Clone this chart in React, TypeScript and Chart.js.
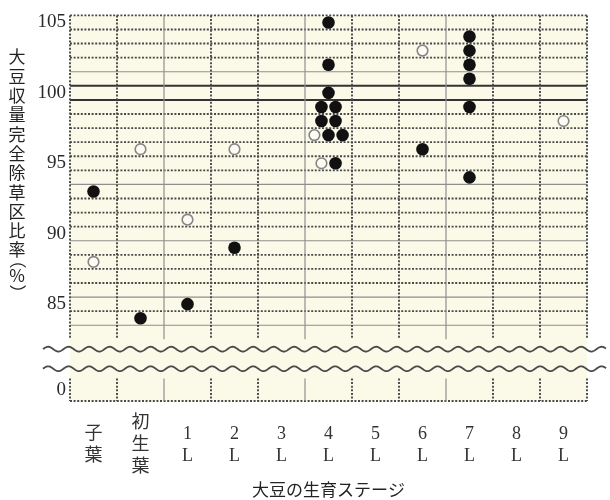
import React, { useEffect, useRef } from 'react';
import { Chart, registerables } from 'chart.js';

Chart.register(...registerables);

// ---- data ----
const stages = ['子葉', '初生葉', '1L', '2L', '3L', '4L', '5L', '6L', '7L', '8L', '9L'];
const yTicksMain = [85, 90, 95, 100, 105];
const yTicksLow = [0];
const yTitle = '大豆収量完全除草区比率（%）';
const xTitle = '大豆の生育ステージ';

// open circles
const openStage = ['子葉', '初生葉', '1L', '2L', '4L', '4L', '6L', '9L'];
const openValue = [88, 96, 91, 96, 97, 95, 103, 98];

// filled circles
const filledStage = ['子葉', '初生葉', '1L', '2L', '4L', '4L', '4L', '4L', '4L', '4L', '4L', '4L', '4L', '4L', '6L', '7L', '7L', '7L', '7L', '7L', '7L'];
const filledValue = [93, 84, 85, 89, 105, 102, 100, 99, 99, 98, 98, 97, 97, 95, 96, 104, 103, 102, 101, 99, 94];

// ---- styling constants ----
const BG = '#fbf9e8';
const DOT = '#4a4a4a';
const THIN = '#8f8f8f';
const DODGE = 0.3; // spacing (category units) between markers sharing a cell

type Series = { stage: string[]; value: number[] };

function dodge(series: Series[]) {
  const groups = new Map<string, { s: number; i: number }[]>();
  series.forEach((ser, s) =>
    ser.stage.forEach((st, i) => {
      const key = st + '|' + ser.value[i];
      if (!groups.has(key)) groups.set(key, []);
      groups.get(key)!.push({ s, i });
    })
  );
  const out = series.map((ser) => ser.stage.map(() => ({ x: 0, y: 0 })));
  groups.forEach((list) =>
    list.forEach((m, k) => {
      const ser = series[m.s];
      out[m.s][m.i] = {
        x: stages.indexOf(ser.stage[m.i]) + (k - (list.length - 1) / 2) * DODGE,
        y: ser.value[m.i],
      };
    })
  );
  return out;
}

function line(ctx: CanvasRenderingContext2D, x1: number, y1: number, x2: number, y2: number, style: 'dot' | 'thin' | 'thick') {
  ctx.save();
  ctx.beginPath();
  if (style === 'dot') {
    ctx.setLineDash([2, 1.6]);
    ctx.strokeStyle = DOT;
    ctx.lineWidth = 1.9;
  } else if (style === 'thin') {
    ctx.setLineDash([]);
    ctx.strokeStyle = THIN;
    ctx.lineWidth = 1.2;
  } else {
    ctx.setLineDash([]);
    ctx.strokeStyle = '#333';
    ctx.lineWidth = 2;
  }
  ctx.moveTo(x1, y1);
  ctx.lineTo(x2, y2);
  ctx.stroke();
  ctx.restore();
}

const paperPlugin = {
  id: 'paper',
  beforeDraw(chart: any) {
    const { ctx, chartArea: ca } = chart;
    ctx.save();
    ctx.fillStyle = BG;
    ctx.fillRect(ca.left, ca.top, ca.right - ca.left, ca.bottom - ca.top);
    ctx.restore();
  },
  beforeDatasetsDraw(chart: any) {
    const { ctx, scales } = chart;
    const x = scales.x, y = scales.y, y0 = scales.y0, yg = scales.ygap;
    const left = x.getPixelForValue(-0.5);
    const right = x.getPixelForValue(stages.length - 0.5);
    // horizontal lines, main panel
    const solidThin = [101.5, 93.5, 89.5, 85.5, 83.5];
    const thick = [100.5, 99.5];
    for (let v = 83.5; v <= 105.5; v += 1) {
      const py = y.getPixelForValue(v);
      const st = thick.includes(v) ? 'thick' : solidThin.includes(v) ? 'thin' : 'dot';
      line(ctx, left, py, right, py, st);
    }
    // bottom border of lower panel
    const pb = y0.getPixelForValue(-0.5);
    line(ctx, left, pb, right, pb, 'dot');
    // vertical lines
    for (let i = 0; i <= stages.length; i++) {
      const px = x.getPixelForValue(i - 0.5);
      const st = i % 3 === 2 && i < stages.length ? 'thin' : 'dot';
      line(ctx, px, y.top, px, y.bottom, st);
      line(ctx, px, y0.top, px, y0.bottom, st);
    }
    // break marks (waves)
    const waveYs = [yg.top + (yg.bottom - yg.top) * 0.25, yg.top + (yg.bottom - yg.top) * 0.75];
    ctx.save();
    ctx.strokeStyle = '#4a4a4a';
    ctx.lineWidth = 1.8;
    const P = 20.5, A = 2.4, x0 = 43, x1 = 606;
    for (const wy of waveYs) {
      ctx.beginPath();
      for (let px = x0; px <= x1; px += 0.5) {
        const py = wy - A * Math.sin(((px - x0) / P) * Math.PI * 2);
        if (px === x0) ctx.moveTo(px, py);
        else ctx.lineTo(px, py);
      }
      ctx.stroke();
    }
    ctx.restore();
  },
  afterDraw(chart: any) {
    const { ctx } = chart;
    ctx.save();
    ctx.font = '17px "Noto Sans CJK JP"';
    ctx.fillStyle = '#222';
    ctx.textAlign = 'center';
    ctx.textBaseline = 'middle';
    const cx = 17;
    let cy = 57;
    let first = true;
    for (const ch of yTitle) {
      if (!first) {
        if (ch === '（') cy += 10;
        else if (ch === '%') cy += 16;
        else if (ch === '）') cy += 17;
        else cy += 19.3;
      }
      first = false;
      if (ch === '（' || ch === '）') {
        ctx.save();
        ctx.translate(cx, cy);
        ctx.rotate(Math.PI / 2);
        ctx.fillText(ch, 0, 0);
        ctx.restore();
      } else {
        ctx.fillText(ch, cx, cy);
      }
    }
    ctx.restore();
  },
};

const serif = '"Liberation Serif", "Noto Sans CJK JP", serif';

export default function App() {
  const ref = useRef<HTMLCanvasElement | null>(null);
  useEffect(() => {
    if (!ref.current) return;
    const [openPts, filledPts] = dodge([
      { stage: openStage, value: openValue },
      { stage: filledStage, value: filledValue },
    ]);
    const leftAxisCommon = {
      type: 'linear' as const,
      position: 'left' as const,
      stack: 'v',
      afterFit: (s: any) => {
        s.width = 70;
      },
      grid: { display: false, drawTicks: false },
      border: { display: false },
    };
    const chart = new Chart(ref.current, {
      type: 'scatter',
      data: {
        datasets: [
          {
            label: 'open',
            data: openPts,
            xAxisID: 'x',
            yAxisID: 'y',
            pointRadius: 5.3,
            pointBorderWidth: 1.6,
            backgroundColor: '#fdfcf4',
            borderColor: '#858585',
            pointBackgroundColor: '#fdfcf4',
            pointBorderColor: '#858585',
          },
          {
            label: 'filled',
            data: filledPts,
            xAxisID: 'x',
            yAxisID: 'y',
            pointRadius: 6.3,
            pointBorderWidth: 0,
            backgroundColor: '#111',
            borderColor: '#111',
            pointBackgroundColor: '#111',
            pointBorderColor: '#111',
          },
        ],
      },
      options: {
        animation: false,
        responsive: true,
        maintainAspectRatio: false,
        events: [],
        layout: { padding: { top: 7, right: 23, left: 0, bottom: 0 } },
        plugins: { legend: { display: false }, tooltip: { enabled: false } },
        scales: {
          x: {
            type: 'linear',
            position: 'bottom',
            min: -0.5,
            max: stages.length - 0.5,
            afterBuildTicks: (s: any) => {
              s.ticks = stages.map((_, i) => ({ value: i }));
            },
            afterFit: (s: any) => {
              s.height = 99;
            },
            grid: { display: false, drawTicks: false },
            border: { display: false },
            ticks: {
              autoSkip: false,
              maxRotation: 0,
              minRotation: 0,
              padding: 22,
              crossAlign: 'center',
              color: '#333',
              font: { family: serif, size: 18, lineHeight: '22px' },
              callback: (v: any) => {
                const s = stages[Math.round(Number(v))];
                return s ? s.split('') : '';
              },
            },
            title: {
              display: true,
              text: xTitle,
              color: '#222',
              font: { family: '"Noto Sans CJK JP"', size: 17, lineHeight: 1.2 },
              padding: { top: 0, bottom: 0 },
            },
          },
          y0: {
            ...leftAxisCommon,
            stackWeight: 23,
            min: -0.5,
            max: 0.5,
            afterBuildTicks: (s: any) => {
              s.ticks = yTicksLow.map((v) => ({ value: v }));
            },
            ticks: { padding: 4, color: '#2a2a2a', font: { family: serif, size: 19 } },
          },
          ygap: {
            ...leftAxisCommon,
            stackWeight: 40,
            min: 0,
            max: 1,
            afterBuildTicks: (s: any) => {
              s.ticks = [];
            },
            ticks: { display: false },
          },
          y: {
            ...leftAxisCommon,
            stackWeight: 331,
            min: 82.5,
            max: 105.5,
            afterBuildTicks: (s: any) => {
              s.ticks = yTicksMain.map((v) => ({ value: v }));
            },
            ticks: { padding: 4, color: '#2a2a2a', font: { family: serif, size: 19 } },
          },
        },
      } as any,
      plugins: [paperPlugin],
    });
    return () => chart.destroy();
  }, []);
  return (
    <div style={{ position: 'fixed', left: 0, top: 0, width: 610, height: 500, background: '#fff' }}>
      <canvas ref={ref} />
    </div>
  );
}
